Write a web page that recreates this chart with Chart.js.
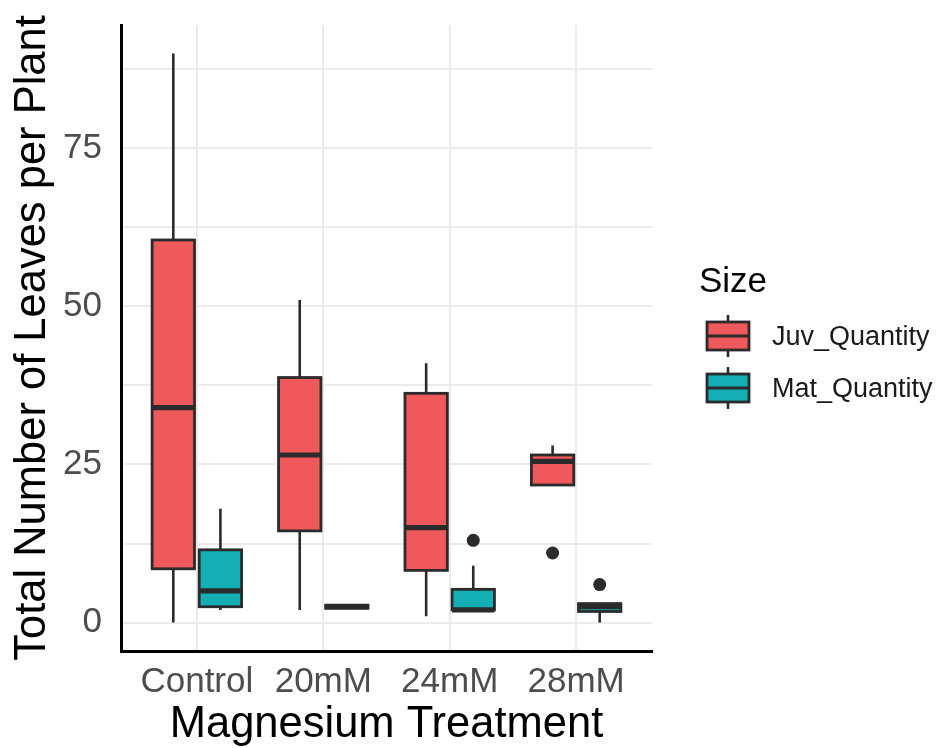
<!DOCTYPE html>
<html>
<head>
<meta charset="utf-8">
<script src="https://cdn.jsdelivr.net/npm/chart.js@4.4.1/dist/chart.umd.min.js"></script>
<style>
  html, body { margin: 0; padding: 0; background: #ffffff; }
  #wrap { width: 936px; height: 748px; }
</style>
</head>
<body>
<div id="wrap"><canvas id="chart" width="936" height="748"></canvas></div>
<script>
// Treatments on the x axis and the two leaf-size groups
const treatments = ['Control', '20mM', '24mM', '28mM'];
const sizeGroups = ['Juv_Quantity', 'Mat_Quantity'];

// Box-plot summaries for juvenile leaves
const juvMin      = [0, 2, 1, 21.75];
const juvQ1       = [8.5, 14.5, 8.25, 21.75];
const juvMedian   = [34, 26.5, 15, 25.5];
const juvQ3       = [60.5, 38.75, 36.25, 26.5];
const juvMax      = [90, 51, 41, 28];
const juvOutliers = [[], [], [], [11]];

// Box-plot summaries for mature leaves
const matMin      = [2, 2.25, 2, 0];
const matQ1       = [2.5, 2.25, 2, 1.75];
const matMedian   = [5, 2.5, 2, 2.5];
const matQ3       = [11.5, 2.75, 5.25, 3];
const matMax      = [18, 2.75, 9, 3];
const matOutliers = [[], [], [13], [6]];

// Y axis: grid at every 12.5, labels at every 25
const yGridTicks = [0, 12.5, 25, 37.5, 50, 62.5, 75, 87.5];
const yLabelTicks = [0, 25, 50, 75];

const FILLS = ['#F0595C', '#13AFB5'];
const INK = '#2B2B2B';
const FONT = "'Liberation Sans', Arial, Helvetica, sans-serif";
Chart.defaults.font.family = FONT;

const stats = [
  { min: juvMin, q1: juvQ1, med: juvMedian, q3: juvQ3, max: juvMax, out: juvOutliers },
  { min: matMin, q1: matQ1, med: matMedian, q3: matQ3, max: matMax, out: matOutliers }
];

// Whiskers, box outlines, medians and outlier dots on top of the filled bars
const boxWhisker = {
  id: 'boxWhisker',
  afterDatasetsDraw(chart) {
    const ctx = chart.ctx;
    const y = chart.scales.y;
    ctx.save();
    ctx.strokeStyle = INK;
    ctx.fillStyle = INK;
    ctx.lineCap = 'butt';
    stats.forEach((s, di) => {
      const meta = chart.getDatasetMeta(di);
      meta.data.forEach((el, i) => {
        const { x, width } = el.getProps(['x', 'width'], true);
        const half = width / 2;
        const pMin = y.getPixelForValue(s.min[i]);
        const pQ1 = y.getPixelForValue(s.q1[i]);
        const pMed = y.getPixelForValue(s.med[i]);
        const pQ3 = y.getPixelForValue(s.q3[i]);
        const pMax = y.getPixelForValue(s.max[i]);
        ctx.lineWidth = 2.6;
        ctx.beginPath();
        if (pMax < pQ3) { ctx.moveTo(x, pQ3); ctx.lineTo(x, pMax); }
        if (pMin > pQ1) { ctx.moveTo(x, pQ1); ctx.lineTo(x, pMin); }
        ctx.stroke();
        ctx.lineWidth = 2.8;
        ctx.strokeRect(x - half, pQ3, width, pQ1 - pQ3);
        ctx.lineWidth = 5.2;
        ctx.beginPath();
        ctx.moveTo(x - half, pMed);
        ctx.lineTo(x + half, pMed);
        ctx.stroke();
        s.out[i].forEach(v => {
          ctx.beginPath();
          ctx.arc(x, y.getPixelForValue(v), 6.5, 0, Math.PI * 2);
          ctx.fill();
        });
      });
    });
    ctx.restore();
  }
};

// Legend with box-plot keys to the right of the panel
const boxLegend = {
  id: 'boxLegend',
  afterDraw(chart) {
    const ctx = chart.ctx;
    ctx.save();
    ctx.fillStyle = '#000000';
    ctx.font = `35px ${FONT}`;
    ctx.textBaseline = 'alphabetic';
    ctx.textAlign = 'left';
    ctx.fillText('Size', 699, 292);
    const keyLeft = 707, keyW = 42;
    const centers = [336, 388];
    sizeGroups.forEach((name, i) => {
      const cy = centers[i];
      const cx = keyLeft + keyW / 2;
      ctx.strokeStyle = INK;
      ctx.lineWidth = 2.6;
      ctx.beginPath();
      ctx.moveTo(cx, cy - 21); ctx.lineTo(cx, cy - 14);
      ctx.moveTo(cx, cy + 14); ctx.lineTo(cx, cy + 21);
      ctx.stroke();
      ctx.fillStyle = FILLS[i];
      ctx.fillRect(keyLeft, cy - 14, keyW, 28);
      ctx.lineWidth = 2.8;
      ctx.strokeRect(keyLeft, cy - 14, keyW, 28);
      ctx.lineWidth = 3;
      ctx.beginPath();
      ctx.moveTo(keyLeft, cy); ctx.lineTo(keyLeft + keyW, cy);
      ctx.stroke();
      ctx.fillStyle = '#1A1A1A';
      ctx.font = `27px ${FONT}`;
      ctx.textBaseline = 'middle';
      ctx.fillText(name, 772, cy + 2);
    });
    ctx.restore();
  }
};

new Chart(document.getElementById('chart'), {
  type: 'bar',
  data: {
    datasets: sizeGroups.map((name, di) => ({
      label: name,
      data: treatments.map((t, i) => ({ x: i + 1, y: [stats[di].q1[i], stats[di].q3[i]] })),
      backgroundColor: FILLS[di],
      borderWidth: 0,
      categoryPercentage: 0.745,
      barPercentage: 0.9
    }))
  },
  options: {
    responsive: false,
    animation: false,
    devicePixelRatio: 1,
    layout: { padding: { left: 0, top: 25, right: 284, bottom: 0 } },
    plugins: { legend: { display: false }, tooltip: { enabled: false } },
    scales: {
      x: {
        type: 'linear',
        offset: false,
        min: 0.4,
        max: 4.6,
        afterBuildTicks: s => { s.ticks = treatments.map((t, i) => ({ value: i + 1 })); },
        afterFit: s => { s.height = 97; s.paddingLeft = 0; s.paddingRight = 0; },
        ticks: {
          callback: v => treatments[v - 1],
          color: '#4D4D4D',
          font: { size: 35 },
          padding: 10,
          autoSkip: false,
          maxRotation: 0
        },
        grid: { color: '#EBEBEB', lineWidth: 2, drawTicks: false, offset: false },
        border: { display: true, color: '#000000', width: 3 },
        title: {
          display: true,
          text: 'Magnesium Treatment',
          color: '#000000',
          font: { size: 43.5, lineHeight: 1 },
          padding: { top: 0, bottom: 1 }
        }
      },
      y: {
        type: 'linear',
        min: -4.5,
        max: 94.5,
        afterBuildTicks: s => { s.ticks = yGridTicks.map(v => ({ value: v })); },
        afterFit: s => { s.width = 121; s.paddingTop = 0; s.paddingBottom = 0; },
        ticks: {
          callback: v => (yLabelTicks.includes(v) ? String(v) : ''),
          color: '#4D4D4D',
          font: { size: 35 },
          padding: 19
        },
        grid: { color: '#EBEBEB', lineWidth: 2, drawTicks: false },
        border: { display: true, color: '#000000', width: 3 },
        title: {
          display: true,
          text: 'Total Number of Leaves per Plant',
          color: '#000000',
          font: { size: 43.5, lineHeight: 1 },
          padding: { top: 11, bottom: 0 }
        }
      }
    }
  },
  plugins: [boxWhisker, boxLegend]
});
</script>
</body>
</html>
